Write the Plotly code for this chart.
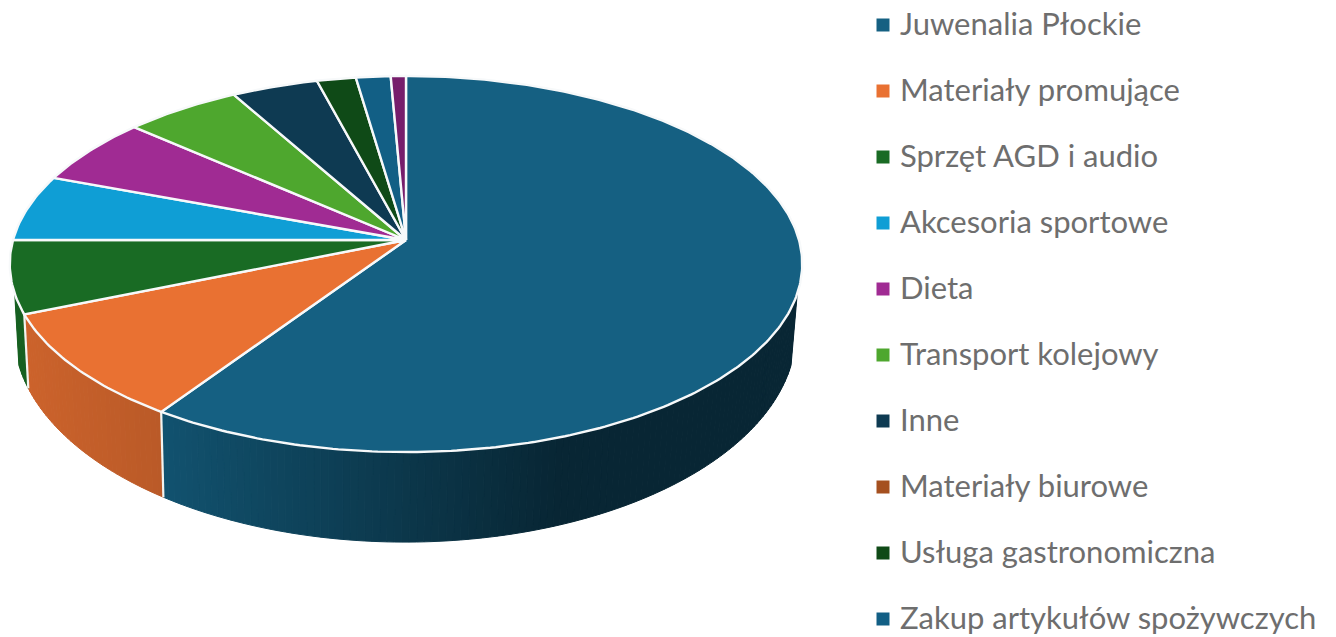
import numpy as np
import plotly.graph_objects as go

# ---- data ----
categories = ["Juwenalia Płockie", "Materiały promujące", "Sprzęt AGD i audio",
              "Akcesoria sportowe", "Dieta", "Transport kolejowy", "Inne",
              "Materiały biurowe", "Usługa gastronomiczna", "Zakup artykułów spożywczych",
              "(poza legendą)"]
values = [59.4, 9.35, 6.25, 5.7, 5.8, 5.4, 4.0, 0.0, 1.8, 1.6, 0.7]
colors = ["#156082", "#E97132", "#196B24", "#0F9ED5", "#A02B93", "#4EA72E", "#0E3A52",
          "#A5501F", "#0F4A17", "#125F85", "#761D6B"]
in_legend = [True] * 10 + [False]

# ---- pie geometry (pixels of the 1336x637 canvas) ----
W, H = 1336, 637
X0, Y0, K, A, B = 406.0, 240.0, 0.1277, 185.0, 393.0
CY, RY = 264.0, 188.0
CX, RX = 404.0, B / np.sqrt(1 - K ** 2)
LCX, LCY, LRX, LRY = 403.0, 332.0, 391.0, 210.0
WALL_DARK = 0.40
LEG_SWATCH_X, LEG_TEXT_X, LEG_TOP, LEG_STEP = 883, 900, 25, 66
LEG_TEXT_DY = 2.5


def rim(theta):
    xx, yy = np.sin(theta), np.cos(theta)
    s = 1.0 / (1.0 + K * yy)
    return X0 + B * xx * s, Y0 - A * yy * s


def lower(px, py):
    c = (px - CX) / RX
    sn = (py - CY) / RY
    return LCX + LRX * c, LCY + LRY * sn


def mix(hexcol, f):
    r, g, b = [int(hexcol[i:i + 2], 16) for i in (1, 3, 5)]
    return f"rgb({int(r * f)},{int(g * f)},{int(b * f)})"


fig = go.Figure()
total = sum(values)
edges = np.cumsum([0.0] + values) / total * 2 * np.pi

# side wall, front half only, drawn before the top
SIN_MIN = 0.155
for i, (col, a0, a1) in enumerate(zip(colors, edges[:-1], edges[1:])):
    if a1 <= a0:
        continue
    th = np.linspace(a0, a1, max(2, int((a1 - a0) * 60) + 2))
    for t0, t1 in zip(th[:-1], th[1:]):
        tt = np.linspace(t0, t1, 4)
        px, py = rim(tt)
        keep = (py - CY) / RY >= SIN_MIN
        if keep.sum() < 2:
            continue
        px, py = px[keep], py[keep]
        lx, ly = lower(px, py)
        xm = px.mean()
        # shading: lit on the left, dark from the centre-right on
        frac = np.clip((xm - 160) / (560 - 160), 0, 1)
        if i == 0:
            f = 0.86 - (0.86 - WALL_DARK) * frac
        elif i == 1:
            f = 0.88 - 0.08 * np.clip((xm - 20) / 140, 0, 1)
        else:
            f = 0.9
        c = mix(col, f)
        fig.add_trace(go.Scatter(
            x=np.r_[px, lx[::-1], px[0]], y=np.r_[py, ly[::-1], py[0]],
            mode="lines", fill="toself", fillcolor=c, line=dict(color=c, width=1),
            hoverinfo="skip", showlegend=False))

# white seams on the wall
for a in edges[1:3]:
    px, py = rim(np.array([a]))
    lx, ly = lower(px, py)
    fig.add_trace(go.Scatter(x=[px[0], lx[0]], y=[py[0], ly[0]], mode="lines",
                             line=dict(color="#f4f4f0", width=2.2),
                             hoverinfo="skip", showlegend=False))

# top face
for name, col, a0, a1 in zip(categories, colors, edges[:-1], edges[1:]):
    if a1 <= a0:
        continue
    tt = np.linspace(a0, a1, max(3, int((a1 - a0) * 80)))
    px, py = rim(tt)
    fig.add_trace(go.Scatter(
        x=np.r_[X0, px, X0], y=np.r_[Y0, py, Y0], mode="lines", fill="toself",
        fillcolor=col, line=dict(color="#f7f9fa", width=2.4), name=name,
        hoverinfo="name", showlegend=False))

# legend drawn as marks + text (ten rows do not fit the native legend at this spacing)
rows = [(n, c) for n, c, s in zip(categories, colors, in_legend) if s]
leg_y = [LEG_TOP + LEG_STEP * i for i in range(len(rows))]
fig.add_trace(go.Scatter(
    x=[LEG_SWATCH_X] * len(rows), y=leg_y, mode="markers",
    marker=dict(symbol="square", size=13, color=[c for _, c in rows]),
    hoverinfo="skip", showlegend=False))
fig.add_trace(go.Scatter(
    x=[LEG_TEXT_X] * len(rows), y=[v + LEG_TEXT_DY for v in leg_y], mode="text",
    text=[n for n, _ in rows], textposition="middle right",
    textfont=dict(family="Lato", size=31, color="#6e6e6e"),
    hoverinfo="skip", showlegend=False, cliponaxis=False))

fig.update_layout(
    width=W, height=H, margin=dict(l=0, r=0, t=0, b=0), autosize=False,
    paper_bgcolor="white", plot_bgcolor="white", showlegend=False,
    xaxis=dict(range=[0, W], visible=False, fixedrange=True),
    yaxis=dict(range=[H, 0], visible=False, fixedrange=True),
)
fig.write_html("out.html", config={"displayModeBar": False},
               post_script="document.body.style.margin='0';document.body.style.overflow='hidden';")
